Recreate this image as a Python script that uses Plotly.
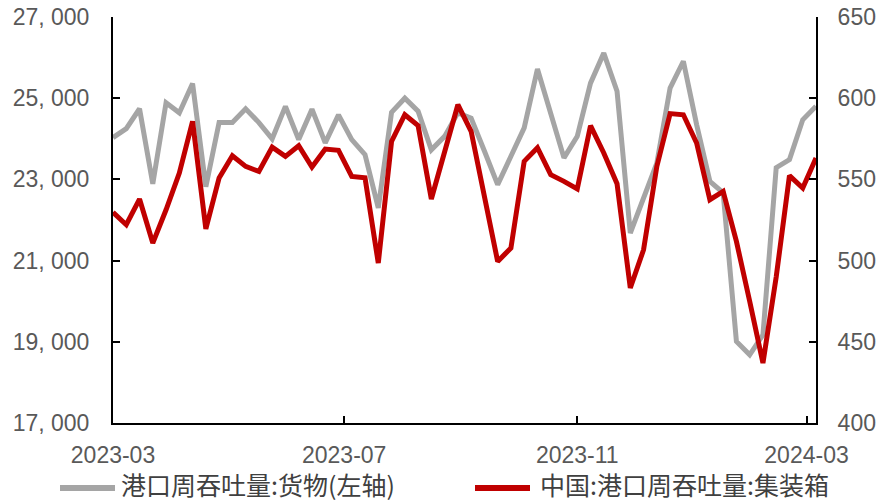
import pandas as pd
import plotly.graph_objects as go

# Weekly port throughput, Mar 2023 – Mar 2024
dates = pd.date_range("2023-03-01", periods=54, freq="7D")

# 港口周吞吐量:货物 (万吨, left axis)
cargo = [
    24030, 24250, 24740, 22890, 24890, 24640, 25360, 22820, 24400, 24400,
    24740, 24400, 24000, 24800, 23980, 24730, 23900, 24590, 23980, 23610,
    22300, 24650, 25000, 24680, 23730, 24060, 24640, 24510, 23700, 22870,
    23570, 24270, 25720, 24650, 23530, 24060, 25370, 26110, 25170, 21680,
    22580, 23400, 25250, 25910, 24350, 22950, 22670, 19010, 18680, 19170,
    23290, 23490, 24470, 24800,
]

# 中国:港口周吞吐量:集装箱 (万标箱, right axis)
container = [
    529.7, 522.1, 537.9, 510.8, 531.3, 553.9, 585.7, 519.5, 550.9, 564.6,
    558.0, 554.9, 569.9, 564.2, 570.7, 557.6, 568.7, 567.9, 551.8, 551.0,
    498.5, 573.4, 589.8, 583.1, 537.9, 567.1, 596.0, 579.6, 540.0, 499.5,
    507.7, 561.1, 569.5, 552.9, 548.8, 544.1, 583.1, 566.3, 547.3, 483.1,
    506.7, 558.0, 590.5, 589.8, 572.4, 537.5, 542.6, 511.8, 475.0, 436.9,
    490.0, 552.3, 544.7, 563.2,
]

left_ticks = [17000, 19000, 21000, 23000, 25000, 27000]
left_tick_text = ["17, 000", "19, 000", "21, 000", "23, 000", "25, 000", "27, 000"]
right_ticks = [400, 450, 500, 550, 600, 650]

name_cargo = "港口周吞吐量:货物(左轴)"
name_container = "中国:港口周吞吐量:集装箱"

GREY = "#A5A5A5"
RED = "#C00000"
TEXT = "#595959"
TICK_FONT = dict(family="Liberation Sans, Arial, sans-serif", size=23, color=TEXT)
LEGEND_FONT = dict(family="Noto Sans CJK SC", size=25, color="#404040")

# plot-area geometry in pixels, used to place the legend row below it
W, H = 884, 503
ML, MR, MT, MB = 113, 68, 17, 80
PW, PH = W - ML - MR, H - MT - MB


def px_x(px):
    return (px - ML) / PW


def px_y(py):
    return (H - MB - py) / PH


fig = go.Figure()
fig.add_trace(go.Scatter(
    x=dates, y=cargo, name=name_cargo, mode="lines",
    line=dict(color=GREY, width=5), yaxis="y", showlegend=False,
))
fig.add_trace(go.Scatter(
    x=dates, y=container, name=name_container, mode="lines",
    line=dict(color=RED, width=5), yaxis="y2", showlegend=False,
))

# legend row: a short line sample followed by the series name
sample_y = px_y(488)
text_y = px_y(484)
for color, name, x0, x1, xt in [
    (GREY, name_cargo, 60, 115, 120),
    (RED, name_container, 475, 530, 539),
]:
    fig.add_shape(
        type="line", xref="paper", yref="paper",
        x0=px_x(x0), x1=px_x(x1), y0=sample_y, y1=sample_y,
        line=dict(color=color, width=6), layer="above",
    )
    fig.add_annotation(
        xref="paper", yref="paper", x=px_x(xt), y=text_y,
        xanchor="left", yanchor="middle", showarrow=False,
        text=name, font=LEGEND_FONT, borderpad=0,
    )

axis_common = dict(
    showline=True, linecolor="black", linewidth=2,
    ticks="inside", ticklen=7, tickwidth=2, tickcolor="black",
    showgrid=False, zeroline=False, tickfont=TICK_FONT, automargin=False,
)

fig.update_layout(
    width=W, height=H,
    margin=dict(l=ML, r=MR, t=MT, b=MB, autoexpand=False),
    paper_bgcolor="white", plot_bgcolor="white",
    showlegend=False,
    xaxis=dict(
        **axis_common,
        type="date",
        range=[dates[0], dates[-1]],
        tick0="2023-03-01", dtick="M4", tickformat="%Y-%m",
        ticklabelstandoff=10,
    ),
    yaxis=dict(
        **axis_common,
        range=[17000, 27000],
        tickvals=left_ticks, ticktext=left_tick_text,
        ticklabelstandoff=17,
    ),
    yaxis2=dict(
        **axis_common,
        overlaying="y", side="right",
        range=[400, 650],
        tickvals=right_ticks,
        ticklabelstandoff=15,
    ),
)

fig.write_html("out.html")
